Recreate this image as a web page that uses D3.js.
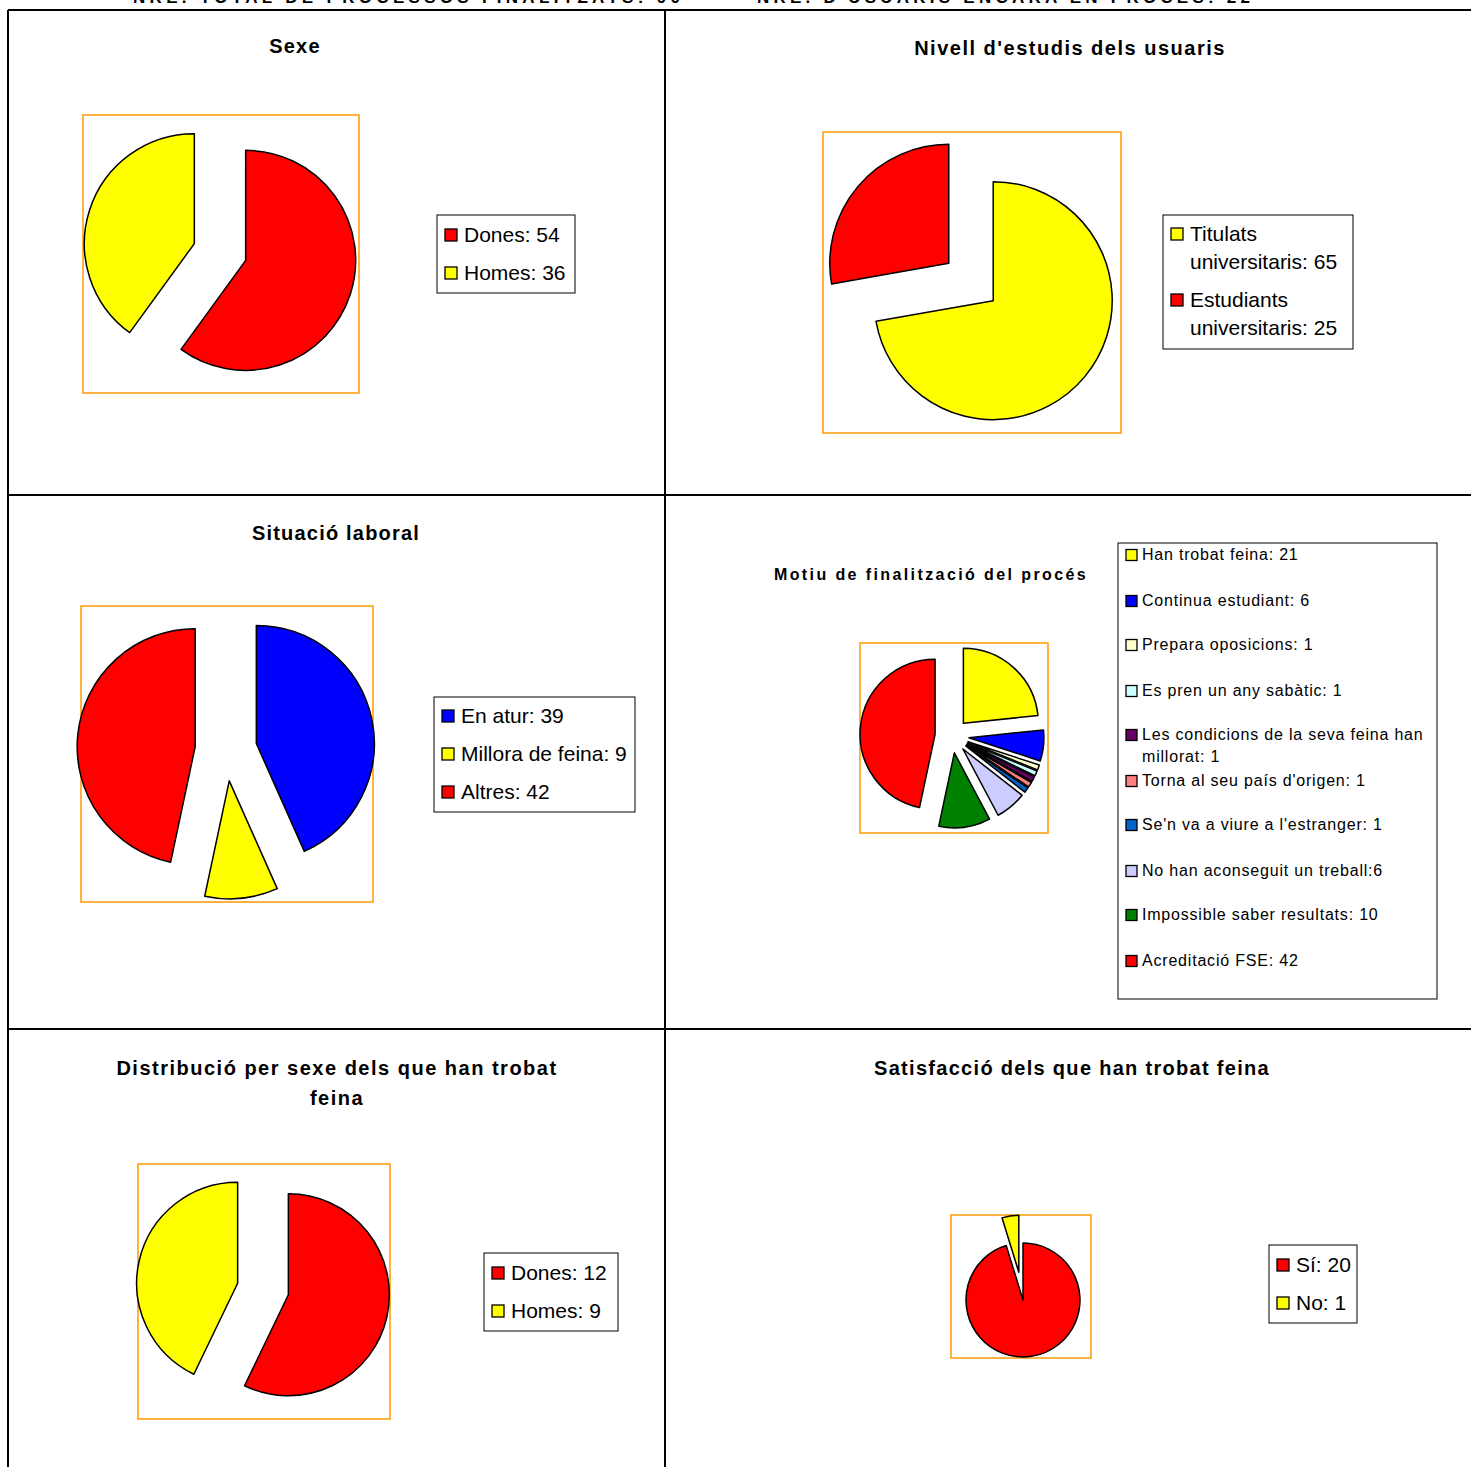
<!DOCTYPE html>
<html>
<head>
<meta charset="utf-8">
<script src="https://cdn.jsdelivr.net/npm/d3@7"></script>
<style>
  body { margin: 0; background: #fff; }
  svg { display: block; font-family: "Liberation Sans", Arial, sans-serif; }
</style>
</head>
<body>
<svg id="chart" width="1471" height="1467"></svg>
<script>
// ---- Data ----
const sexeLabels = ["Dones: 54", "Homes: 36"];
const sexeValues = [54, 36];
const sexeColors = ["#FF0000", "#FFFF00"];

const estudisLabels = [["Titulats", "universitaris: 65"], ["Estudiants", "universitaris: 25"]];
const estudisValues = [65, 25];
const estudisColors = ["#FFFF00", "#FF0000"];

const laboralLabels = ["En atur: 39", "Millora de feina: 9", "Altres: 42"];
const laboralValues = [39, 9, 42];
const laboralColors = ["#0000FF", "#FFFF00", "#FF0000"];

const motiuLabels = [
  ["Han trobat feina: 21"], ["Continua estudiant: 6"], ["Prepara oposicions: 1"],
  ["Es pren un any sabàtic: 1"], ["Les condicions de la seva feina han", "millorat: 1"],
  ["Torna al seu país d'origen: 1"], ["Se'n va a viure a l'estranger: 1"],
  ["No han aconseguit un treball:6"], ["Impossible saber resultats: 10"], ["Acreditació FSE: 42"]
];
const motiuValues = [21, 6, 1, 1, 1, 1, 1, 6, 10, 42];
const motiuColors = ["#FFFF00", "#0000FF", "#FFFFCC", "#CCFFFF", "#660066",
                     "#FF8080", "#0066CC", "#CCCCFF", "#008000", "#FF0000"];

const trobatLabels = ["Dones: 12", "Homes: 9"];
const trobatValues = [12, 9];
const trobatColors = ["#FF0000", "#FFFF00"];

const satisLabels = ["Sí: 20", "No: 1"];
const satisValues = [20, 1];
const satisColors = ["#FF0000", "#FFFF00"];

// ---- Layout of each panel ----
const charts = [
  { title: ["Sexe"], tx: 295, ty: 53, tsize: 20, ls: 1.2,
    labels: sexeLabels.map(d => [d]), values: sexeValues, colors: sexeColors,
    box: [83, 115, 359, 393], cx: 220, cy: 252, r: 110, explode: [27, 27],
    legend: { x: 437, y: 215, w: 138, h: 78, y0: 234, step: 38, fs: 21, sw: 12 } },
  { title: ["Nivell d'estudis dels usuaris"], tx: 1070, ty: 55, tsize: 20, ls: 1.5,
    labels: estudisLabels, values: estudisValues, colors: estudisColors,
    box: [823, 132, 1121, 433], cx: 971, cy: 282, r: 119, explode: [29, 29],
    legend: { x: 1163, y: 215, w: 190, h: 134, y0: 233, step: 66, line: 28, fs: 21, sw: 12 } },
  { title: ["Situació laboral"], tx: 336, ty: 540, tsize: 20, ls: 1.2,
    labels: laboralLabels.map(d => [d]), values: laboralValues, colors: laboralColors,
    box: [81, 606, 373, 902], cx: 226, cy: 750, r: 118, explode: [31, 31, 31],
    legend: { x: 434, y: 697, w: 201, h: 115, y0: 715, step: 38, fs: 21, sw: 12 } },
  { title: ["Motiu de finalització del procés"], tx: 931, ty: 580, tsize: 16, ls: 2.4,
    labels: motiuLabels, values: motiuValues, colors: motiuColors,
    box: [860, 643, 1048, 833], cx: 952, cy: 736, r: 75, explode: motiuValues.map(() => 17),
    legend: { x: 1118, y: 543, w: 319, h: 456, y0: 554, ys: [554, 600, 644, 690, 734, 780, 824, 870, 914, 960], line: 22, fs: 16, sw: 11, ls: 0.8 } },
  { title: ["Distribució per sexe dels que han trobat", "feina"], tx: 337, ty: 1075, tsize: 20, ls: 1.5,
    labels: trobatLabels.map(d => [d]), values: trobatValues, colors: trobatColors,
    box: [138, 1164, 390, 1419], cx: 263, cy: 1289, r: 101, explode: [26, 26],
    legend: { x: 484, y: 1253, w: 134, h: 78, y0: 1272, step: 38, fs: 21, sw: 12 } },
  { title: ["Satisfacció dels que han trobat feina"], tx: 1072, ty: 1075, tsize: 20, ls: 1.3,
    labels: satisLabels.map(d => [d]), values: satisValues, colors: satisColors,
    box: [951, 1215, 1091, 1358], cx: 1023, cy: 1300, r: 57, explode: [0, 28],
    legend: { x: 1269, y: 1245, w: 88, h: 78, y0: 1264, step: 38, fs: 21, sw: 12 } }
];

const svg = d3.select("#chart");

// ---- Header text, cut by the top edge as in the source ----
svg.append("text").attr("x", 133).attr("y", 3).attr("textLength", 547)
  .attr("font-size", 17).attr("font-weight", "bold")
  .text("NRE. TOTAL DE PROCESSOS FINALITZATS: 90");
svg.append("text").attr("x", 757).attr("y", 3).attr("textLength", 493)
  .attr("font-size", 17).attr("font-weight", "bold")
  .text("NRE. D'USUARIS ENCARA EN PROCÉS: 22");

// ---- Grid ----
const grid = svg.append("g").attr("stroke", "#000").attr("stroke-width", 2);
grid.append("line").attr("x1", 8).attr("y1", 10).attr("x2", 1471).attr("y2", 10);
grid.append("line").attr("x1", 8).attr("y1", 495).attr("x2", 1471).attr("y2", 495);
grid.append("line").attr("x1", 8).attr("y1", 1029).attr("x2", 1471).attr("y2", 1029);
grid.append("line").attr("x1", 8).attr("y1", 10).attr("x2", 8).attr("y2", 1467);
grid.append("line").attr("x1", 665).attr("y1", 10).attr("x2", 665).attr("y2", 1467);

// ---- Pies ----
const pie = d3.pie().sort(null).value(d => d);

charts.forEach(c => {
  // title
  c.title.forEach((t, i) => {
    svg.append("text")
      .attr("x", c.tx).attr("y", c.ty + i * 30)
      .attr("text-anchor", "middle")
      .attr("font-size", c.tsize).attr("font-weight", "bold")
      .attr("letter-spacing", c.ls)
      .text(t);
  });

  // plot area box
  const [x0, y0, x1, y1] = c.box;
  svg.append("rect")
    .attr("x", x0).attr("y", y0).attr("width", x1 - x0).attr("height", y1 - y0)
    .attr("fill", "none").attr("stroke", "#FF9900").attr("stroke-width", 1.5);

  const arc = d3.arc().innerRadius(0).outerRadius(c.r);
  const g = svg.append("g").attr("transform", `translate(${c.cx},${c.cy})`);
  g.selectAll("path").data(pie(c.values)).join("path")
    .attr("transform", (d, i) => {
      const a = (d.startAngle + d.endAngle) / 2;
      const e = c.explode[i];
      return `translate(${Math.sin(a) * e},${-Math.cos(a) * e})`;
    })
    .attr("d", arc)
    .attr("fill", (d, i) => c.colors[i])
    .attr("stroke", "#000").attr("stroke-width", 1.5)
    .attr("stroke-linejoin", "round");

  // legend
  const L = c.legend;
  const lg = svg.append("g");
  lg.append("rect").attr("x", L.x).attr("y", L.y).attr("width", L.w).attr("height", L.h)
    .attr("fill", "#fff").attr("stroke", "#000").attr("stroke-width", 1);
  c.labels.forEach((lines, i) => {
    const cy = L.ys ? L.ys[i] : L.y0 + i * L.step;
    const small = L.fs < 18;
    lg.append("rect")
      .attr("x", L.x + 8).attr("y", cy - L.sw / 2 + 1)
      .attr("width", L.sw).attr("height", L.sw)
      .attr("fill", c.colors[i]).attr("stroke", "#000").attr("stroke-width", 1.3);
    lines.forEach((t, j) => {
      lg.append("text")
        .attr("x", L.x + 8 + L.sw + (small ? 5 : 7))
        .attr("y", cy + L.fs * 0.36 + j * (L.line || 0))
        .attr("font-size", L.fs)
        .attr("letter-spacing", L.ls || 0)
        .text(t);
    });
  });
});
</script>
</body>
</html>
